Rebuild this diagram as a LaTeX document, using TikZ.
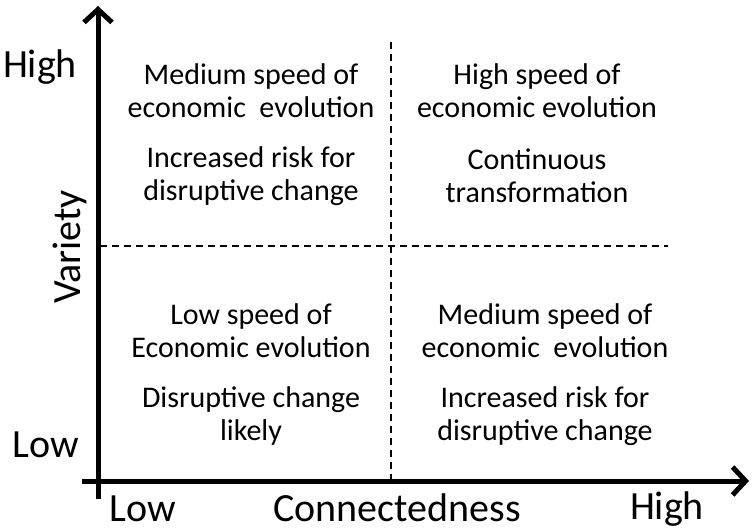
\documentclass[tikz,border=0pt]{standalone}
\usepackage{fontspec}
\setmainfont{Carlito}
\usetikzlibrary{arrows.meta}
\tikzstyle{axis}=[line width=5pt, -{Straight Barb[length=13pt, width=28pt, line width=5pt]}]
\tikzstyle{divider}=[line width=2.2pt, dash pattern=on 7pt off 5pt]
\tikzstyle{quadrant}=[align=center, font=\fontsize{30}{33}\selectfont]
\tikzstyle{axis label}=[anchor=base, inner sep=0, font=\fontsize{40}{40}\selectfont]

\begin{document}
\begin{tikzpicture}[x=1pt, y=-1pt]
    \useasboundingbox (0, 0) rectangle (753, 531);

    \coordinate (y_foot) at (98, 499);
    \coordinate (y_tip) at (98, 6);
    \coordinate (x_foot) at (82, 481);
    \coordinate (x_tip) at (749, 481);
    \coordinate (v_top) at (391, 42);
    \coordinate (v_bot) at (391, 481);
    \coordinate (h_left) at (100, 246);
    \coordinate (h_right) at (668, 246);

    \draw[divider] (v_top) -- (v_bot);
    \draw[divider] (h_left) -- (h_right);
    \draw[axis] (y_foot) -- (y_tip);
    \draw[axis] (x_foot) -- (x_tip);

    \node[axis label] (var_high) at (40, 77) {High};
    \node[axis label] (var_low) at (46, 457) {Low};
    \node[font=\fontsize{40}{40}\selectfont, rotate=90] (variety) at (70, 247) {Variety};
    \node[axis label] (con_low) at (143, 521) {Low};
    \node[axis label] (connect) at (397, 521) {Connectedness};
    \node[axis label] (con_high) at (667, 519) {High};

    \node[quadrant] (tl_speed) at (251, 91) {Medium speed of\\economic\ \ evolution};
    \node[quadrant] (tl_risk) at (251, 176) {Increased risk for\\disruptive change};
    \node[quadrant] (tr_speed) at (537, 91) {High speed of\\economic evolution};
    \node[quadrant] (tr_risk) at (537, 176) {Continuous\\transformation};
    \node[quadrant] (bl_speed) at (251, 331) {Low speed of\\Economic evolution};
    \node[quadrant] (bl_risk) at (251, 416) {Disruptive change\\likely};
    \node[quadrant] (br_speed) at (545, 331) {Medium speed of\\economic\ \ evolution};
    \node[quadrant] (br_risk) at (545, 416) {Increased risk for\\disruptive change};
  \end{tikzpicture}
\end{document}
